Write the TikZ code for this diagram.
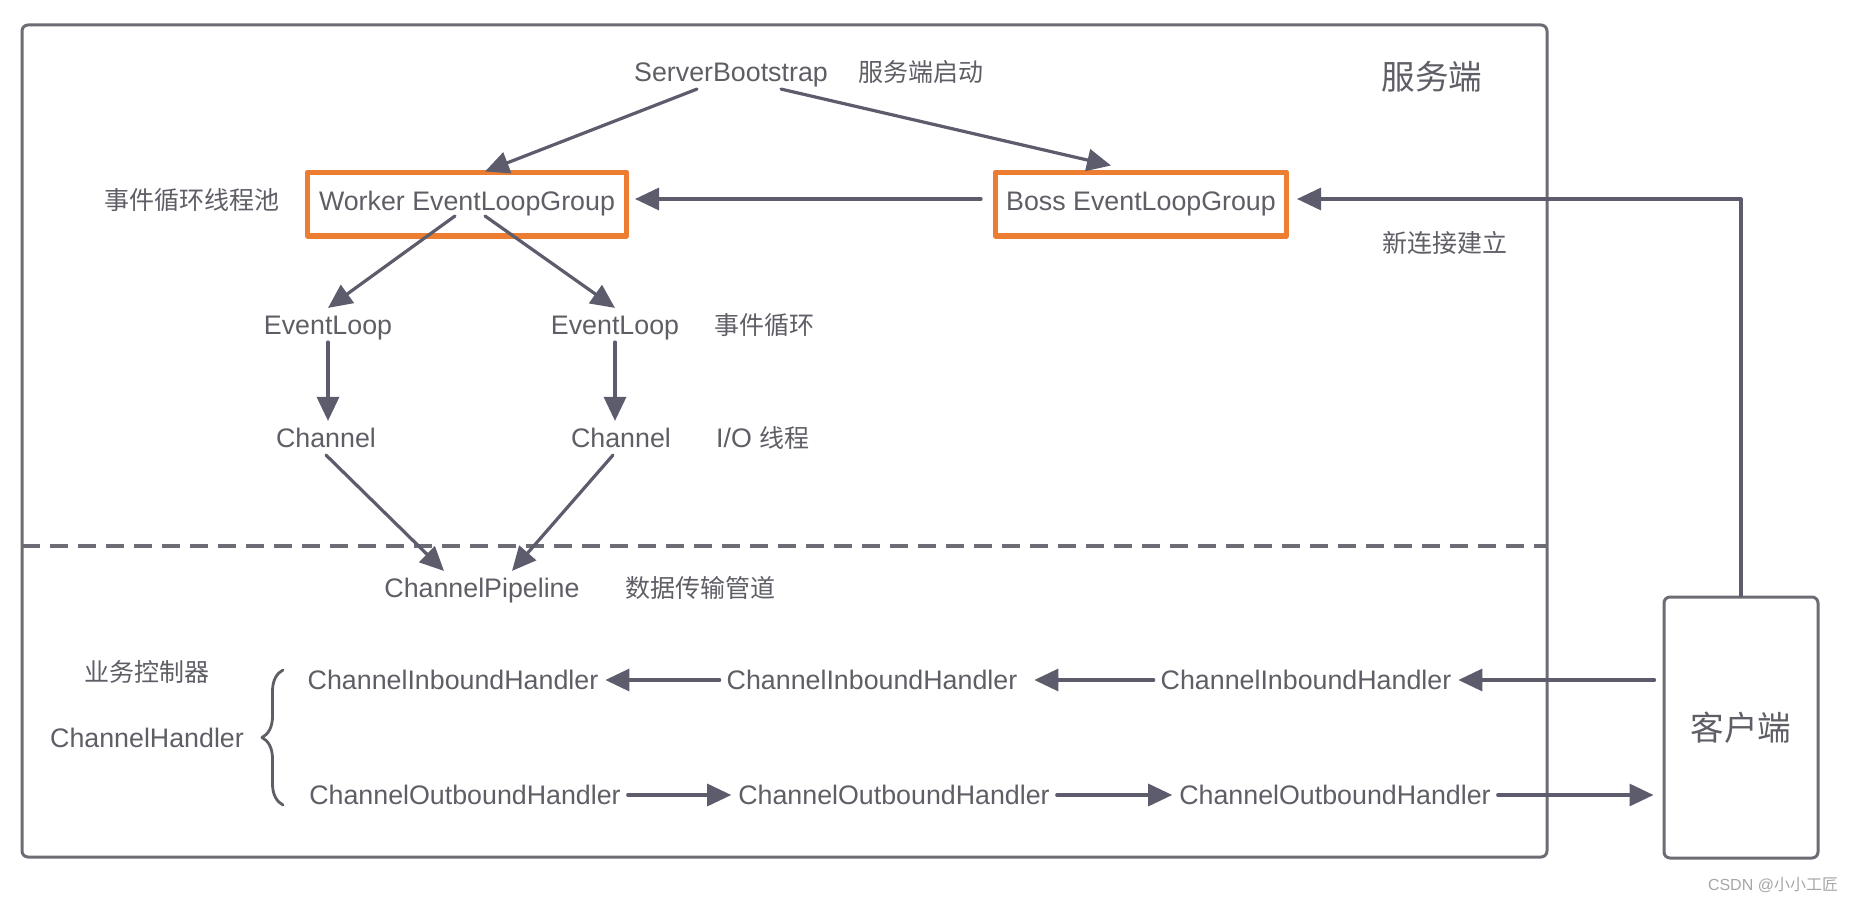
\documentclass[tikz,border=0pt]{standalone}
\usepackage{fontspec}
\setmainfont{Liberation Sans}
\newfontfamily\cjk{Noto Sans CJK SC}
\usepackage{tikz}
\usetikzlibrary{arrows.meta}
\usetikzlibrary{decorations.pathreplacing}
\definecolor{txtgray}{HTML}{5E5E66}
\definecolor{linegray}{HTML}{5C5C6C}
\definecolor{framegray}{HTML}{6C6C74}
\definecolor{boxorange}{HTML}{ED7D31}

\begin{document}
\begin{tikzpicture}[line cap=round,line join=round,>={Triangle[length=12pt,width=11pt]},x=0.5pt,y=-0.5pt,
  lbl/.style={text=txtgray,font=\fontsize{13.4}{16}\selectfont,text height=9.7pt,text depth=0.3pt},
  cn/.style={text=txtgray,font=\fontsize{12.5}{15}\selectfont\cjk},
  cnbig/.style={text=txtgray,font=\fontsize{16.8}{20}\selectfont\cjk},
  grp/.style={lbl,draw=boxorange,line width=2.6pt,minimum height=31.9pt,text depth=3.3pt},
  arr/.style={->,draw=linegray,line width=1.6pt}]
\useasboundingbox (0,0) rectangle (1858,904);
\draw [framegray,line width=1.5pt,rounded corners=3pt] (22,25) rectangle (1547,857);
\draw [framegray,line width=2pt,dash pattern=on 9pt off 5pt,line cap=butt] (22,546) -- (1547,546);
% server side
\node[lbl] (sb) at (731,72) {ServerBootstrap};
\node[cn] (sbnote) at (921,72) {服务端启动};
\node[cnbig] (server) at (1432,77) {服务端};
\node[grp,minimum width=159.4pt] (worker) at (467,204) {Worker EventLoopGroup};
\node[cn] (pool) at (192,200) {事件循环线程池};
\node[grp,minimum width=145.4pt] (boss) at (1141,204) {Boss EventLoopGroup};
\node[cn] (newconn) at (1445,243) {新连接建立};
\node[lbl] (el1) at (328,325) {EventLoop};
\node[lbl] (el2) at (615,325) {EventLoop};
\node[cn] (elnote) at (764,325) {事件循环};
\node[lbl] (ch1) at (326,438) {Channel};
\node[lbl] (ch2) at (621,438) {Channel};
\node[lbl] (ionote) at (763,438) {I/O\hspace{4pt}{\cjk\fontsize{12.5}{15}\selectfont 线程}};
\node[lbl] (pipe) at (482,588) {ChannelPipeline};
\node[cn] (pipenote) at (700,588) {数据传输管道};
% handlers
\node[cn] (biz) at (147,672) {业务控制器};
\node[lbl] (handler) at (147,738) {ChannelHandler};
\node[lbl] (in1) at (453,680) {ChannelInboundHandler};
\node[lbl] (in2) at (872,680) {ChannelInboundHandler};
\node[lbl] (in3) at (1306,680) {ChannelInboundHandler};
\node[lbl] (out1) at (465,795) {ChannelOutboundHandler};
\node[lbl] (out2) at (894,795) {ChannelOutboundHandler};
\node[lbl] (out3) at (1335,795) {ChannelOutboundHandler};
\node[cnbig,draw=framegray,line width=1.5pt,rounded corners=3pt,minimum width=77pt,minimum height=130.5pt] (client) at (1741,727.5) {客户端};
\node[text=gray!70,font=\fontsize{8}{10}\selectfont] (mark) at (1773,885) {CSDN @{\cjk 小小工匠}};
% connectors
\draw [arr] ([xshift=-17pt]sb.south) -- ([xshift=9pt,yshift=-1pt]worker.north);
\draw [arr] ([xshift=25pt]sb.south) -- ([xshift=-15pt,yshift=2pt]boss.north);
\draw [arr] ([xshift=-6pt,yshift=2.5pt]boss.west) -- ([xshift=3pt,yshift=2.5pt]worker.east);
\draw [arr] (client.north) |- ([xshift=4pt,yshift=2.5pt]boss.east);
\draw [arr] ([xshift=-6pt,yshift=-6pt]worker.center) -- (el1.north);
\draw [arr] ([xshift=9pt,yshift=-6pt]worker.center) -- (el2.north);
\draw [arr] (el1.south) -- (el1.south |- ch1.north);
\draw [arr] (el2.south) -- (el2.south |- ch2.north);
\draw [arr] (ch1.south) -- ([xshift=-19pt]pipe.north);
\draw [arr] ([xshift=-4pt]ch2.south) -- ([xshift=15pt]pipe.north);
\draw [arr,shorten <=4pt] (client.west |- in3) -- (in3);
\draw [arr,shorten >=5pt] (in3) -- (in2);
\draw [arr] (in2) -- (in1);
\draw [arr] (out1) -- (out2);
\draw [arr] (out2) -- (out3);
\draw [arr,shorten >=4.5pt] (out3) -- (out3 -| client.west);
\draw [txtgray,line width=1.4pt,decorate,decoration={brace,amplitude=10.5pt}] (283,805) -- (283,670);
\end{tikzpicture}
\end{document}
